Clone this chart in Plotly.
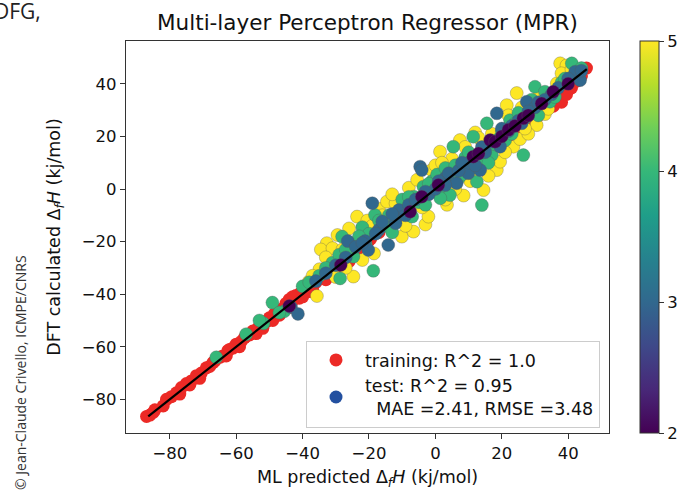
import plotly.graph_objects as go

# ---------------- data ----------------
train_x = [-87.0, -86.0, -84.5, -81.0, -79.5, -78.0, -76.5, -75.0, -73.5, -72.0, -70.5, -69.0, -68.0, -66.5,
           -65.0, -64.0, -62.5, -61.0, -60.0, -58.5, -57.5, -56.0, -55.0, -53.5, -52.5, -51.0, -50.0, -48.5,
           -47.5, -46.0, -45.0, -44.0, -43.0, -42.0, -40.5, -39.5, -38.5, -37.0, -36.0, -35.0, -34.0, -33.0,
           -32.0, -31.0, -30.0, -29.0, -28.0, -27.0, -25.5, -24.0, -22.5, -21.0, -19.5, -17.0, -14.0, -11.0,
           -8.0, -5.0, -2.0, 1.0, 4.0, 7.0, 10.0, 13.0, 16.0, 19.0, 22.0, 25.0, 28.0, 30.5, 33.0, 35.5, 38.0,
           39.5, 41.0, 42.5, 44.0, 45.5,
           -77.0, -71.0, -63.0, -59.0, -54.0, -49.0, -41.0, -37.0, -33.0, -26.0,
           -85.0, -82.0, -74.0, -67.0, -62.0, -57.0, -52.0, -47.0, -45.0, -43.0, -39.0, -36.0, -34.0, -31.0,
           -29.0, -28.0, -24.0, -23.0, -20.0, -38.0, -44.0, -40.0]
train_y = [-86.5, -86.0, -84.0, -80.0, -79.0, -77.5, -75.5, -74.0, -73.0, -71.0, -70.0, -68.0, -67.5, -65.5,
           -64.0, -63.5, -61.5, -60.5, -59.0, -58.0, -56.5, -55.5, -54.0, -53.0, -51.5, -50.5, -49.0, -47.5,
           -46.0, -45.5, -43.5, -42.0, -42.5, -40.5, -39.5, -38.0, -37.5, -36.0, -35.5, -33.5, -33.0, -31.0,
           -31.5, -29.5, -29.5, -27.5, -27.5, -25.5, -25.0, -23.0, -22.0, -20.5, -19.0, -16.5, -13.5, -10.5,
           -7.5, -4.5, -1.5, 1.0, 3.5, 6.5, 9.5, 12.0, 15.0, 17.5, 20.0, 22.5, 24.5, 27.0, 29.5, 31.5, 33.0,
           36.0, 38.5, 41.0, 43.0, 46.0,
           -78.0, -72.0, -63.5, -60.0, -55.0, -50.0, -41.5, -38.0, -34.5, -27.5,
           -85.0, -82.5, -74.5, -66.0, -61.0, -56.0, -53.0, -48.0, -44.5, -41.0, -37.0, -34.0, -32.0, -30.5,
           -29.0, -26.0, -24.5, -21.0, -19.5, -39.0, -45.0, -41.0]

# test set, one list per colour value
yellow_x = [-35.7, -38.1, -34.9, -32.7, -34.5, -31.0, -33.0, -29.5, -24.7, -27.0, -23.6, -20.5, -17.0, -14.6,
            -12.0, -10.1, -6.6, -3.0, -2.1, -8.0, -1.1, 1.4, 3.5, 7.4, 8.5, 10.5, 14.5, 18.5, 19.5, 23.5, 25.5,
            12.0, 21.5, 24.5, 30.5, 33.0, 36.6, 37.6, 39.5, -18.5, -26.0, 5.0, 16.0, -5.5, 28.0,
            -37.0, -30.0, -22.0, -16.0, -13.0, -9.0, -4.0, 0.0, 2.0, 6.0, 9.0, 11.0, 13.0, 17.0, 21.0, 22.0,
            26.0, 27.0, 31.0, 34.0, 38.0, 41.0, -28.0, -19.0, 3.0]
yellow_y = [-40.7, -35.2, -30.5, -20.6, -23.0, -22.5, -26.0, -17.5, -33.3, -30.0, -10.5, -12.0, -7.5, -4.8,
            -5.5, -18.1, -16.2, -13.5, -10.5, 0.5, 7.2, 14.2, -6.0, 18.6, -2.5, 3.0, -0.4, 7.2, 10.4, 16.1, 19.0,
            21.5, 31.9, 36.5, 24.3, 28.5, 40.2, 47.8, 47.0, -24.5, -15.0, 11.5, 5.0, 3.5, 21.0,
            -33.0, -33.5, -27.0, -10.0, -2.0, -14.0, -7.0, 9.0, 10.0, 0.0, 16.0, 6.0, 19.5, 21.0, 14.0, 28.0,
            31.0, 23.0, 35.0, 30.5, 44.0, 45.5, -23.0, -14.0, -4.0]
green_x = [-66.0, -57.0, -51.8, -49.1, -45.5, -35.0, -31.0, -28.7, -28.1, -26.0, -24.7, -22.0, -18.7, -18.2,
           -20.0, -15.0, -13.0, -11.1, -10.0, -9.0, -7.0, -6.5, -3.6, -1.0, 0.5, 2.0, 3.0, 4.4, 5.4, 7.0, 9.0,
           11.4, 12.5, 14.0, 15.5, 17.0, 18.0, 20.0, 22.5, 24.0, 26.5, 28.5, 30.0, 33.0, 34.5, 38.0, 41.1,
           -40.0, -47.0,
           -38.0, -33.0, -29.0, -27.0, -23.0, -21.0, -17.0, -14.0, -12.0, -8.0, -5.0, -3.0, -2.0, 1.0, 1.5,
           3.5, 6.0, 8.0, 10.0, 11.0, 13.0, 16.0, 19.0, 21.0, 23.0, 25.0, 27.0, 29.0, 31.0, 32.0, 36.0, 39.0,
           42.0, 44.0, -53.0]
green_y = [-64.0, -55.2, -51.1, -43.2, -46.5, -33.0, -28.0, -34.0, -18.1, -20.5, -25.7, -14.5, -31.1, -9.9,
           -17.0, -14.0, -16.5, -9.2, -4.0, -8.0, -10.5, -2.9, 0.9, 3.0, 5.5, -1.0, 8.0, -2.3, 16.1, 4.0, 12.0,
           19.9, 2.8, -6.1, 25.0, 13.0, 17.0, 22.0, 26.2, 25.0, 12.9, 30.0, 38.9, 37.0, 33.2, 40.5, 47.8,
           -37.0, -47.0,
           -35.5, -30.0, -25.0, -23.0, -18.0, -21.0, -12.0, -10.0, -11.0, -3.0, -5.0, -6.0, 2.0, 2.0, -3.5,
           3.0, 9.0, 5.5, 14.0, 8.0, 11.0, 10.0, 19.0, 18.5, 21.0, 29.0, 27.0, 34.0, 28.0, 33.0, 35.0, 42.0,
           43.0, 46.0, -50.0]
blue_x = [-43.5, -41.4, -30.0, -26.4, -24.0, -21.2, -20.2, -19.0, -17.1, -16.0, -14.2, -12.0, -11.0, -8.0,
          -4.6, -4.1, -2.0, 0.0, 2.9, 4.0, 6.4, 9.5, 9.9, 10.0, 13.5, 15.0, 18.5, 19.5, 22.0, 25.0, 27.5,
          30.0, 35.0, 42.1, 43.6,
          -36.0, -33.0, -27.0, -22.0, -18.0, -13.0, -9.0, -6.0, -3.0, 1.0, 3.0, 7.0, 8.0, 12.0, 14.0, 17.0,
          20.0, 23.0, 26.0, 28.0, 31.0, 33.0, 37.0, 40.0, 44.0]
blue_y = [-44.9, -47.5, -29.0, -19.8, -22.0, -19.8, -23.2, -5.4, -15.6, -12.4, -21.3, -13.0, -8.0, -6.0,
          8.5, 7.2, -2.0, 0.0, 4.1, 6.0, 2.2, 8.5, 6.0, 10.0, 7.2, 14.0, 28.8, 16.1, 22.0, 26.0, 33.2,
          31.0, 36.0, 44.6, 41.4,
          -35.0, -32.0, -26.0, -20.5, -17.0, -9.5, -10.0, -4.0, -1.0, 3.0, 1.5, 7.0, 10.0, 9.0, 16.0, 18.0,
          23.0, 24.0, 25.0, 29.5, 33.0, 34.0, 38.5, 42.0, 45.0]
purple_x = [-44.0, -28.5, -7.6, -4.1, 0.9, 11.4, 13.0, 16.5, 18.0, 20.0, 22.0, 24.0, 26.5, 28.0, 32.0, 35.5,
            40.0]
purple_y = [-44.5, -28.9, -8.6, -2.9, 1.5, 12.3, 13.5, 18.6, 18.0, 20.0, 22.5, 24.0, 26.9, 28.0, 32.5, 37.0,
            40.0]
group_values = [5, 4, 3, 2]

diag = [-86.5, 45.6]

x_ticks = [-80, -60, -40, -20, 0, 20, 40]
y_ticks = [-80, -60, -40, -20, 0, 20, 40]
cbar_ticks = [2, 3, 4, 5]

title = "Multi-layer Perceptron Regressor (MPR)"
x_label = "ML predicted Δ<sub><i>f</i></sub><i>H</i> (kj/mol)"
y_label = "DFT calculated Δ<sub><i>f</i></sub><i>H</i> (kj/mol)"
train_label = "training: R^2 = 1.0"
test_label = "test: R^2 = 0.95<br>\u00a0\u00a0MAE =2.41, RMSE =3.48"

RED = "#ec2a26"
BLUE = "#2350a0"
FONT = "DejaVu Sans"

# assemble the test set (yellow drawn first, purple on top)
groups = [(yellow_x, yellow_y), (green_x, green_y), (blue_x, blue_y), (purple_x, purple_y)]
test_x, test_y, test_c = [], [], []
for (gx, gy), v in zip(groups, group_values):
    test_x += gx
    test_y += gy
    test_c += [v] * len(gx)

# ---------------- figure ----------------
W, H = 694, 490
L, R, T, B = 126, 85, 41, 57
pw, ph = W - L - R, H - T - B

fig = go.Figure()

fig.add_trace(go.Scatter(
    x=train_x, y=train_y, mode="markers", showlegend=False,
    marker=dict(size=13, color=RED, line=dict(width=0)),
))
fig.add_trace(go.Scatter(
    x=test_x, y=test_y, mode="markers", showlegend=False,
    marker=dict(size=13, color=test_c, colorscale="Viridis", cmin=2, cmax=5,
                line=dict(width=0.6, color="rgba(90,90,90,0.55)"),
                showscale=True,
                colorbar=dict(x=(640 - L) / pw, xanchor="left", y=0.5, yanchor="middle",
                              len=1, lenmode="fraction", thickness=19, thicknessmode="pixels",
                              xpad=0, ypad=0, outlinewidth=1, outlinecolor="#333",
                              ticks="outside", ticklen=5, tickcolor="#333",
                              tickvals=cbar_ticks, tickfont=dict(family=FONT, size=16.5, color="#111"))),
))
fig.add_trace(go.Scatter(
    x=diag, y=diag, mode="lines", showlegend=False,
    line=dict(color="black", width=2.2),
))
# legend entries
fig.add_trace(go.Scatter(x=[None], y=[None], mode="markers", name=train_label,
                         marker=dict(size=13, color=RED)))
fig.add_trace(go.Scatter(x=[None], y=[None], mode="markers", name=test_label,
                         marker=dict(size=13, color=BLUE)))

axis_common = dict(showline=True, mirror=True, linecolor="#333", linewidth=1.2, automargin=False,
                   ticks="outside", ticklen=5, tickcolor="#333", showgrid=False, zeroline=False,
                   tickfont=dict(family=FONT, size=16.5, color="#111"))

fig.update_layout(
    width=W, height=H, margin=dict(l=L, r=R, t=T, b=B, pad=0, autoexpand=False),
    paper_bgcolor="white", plot_bgcolor="white",
    font=dict(family=FONT, color="#111"),
    title=dict(text=title, x=0.5, xref="paper", xanchor="center",
               y=1 - 22 / H, yref="container", yanchor="middle",
               font=dict(family=FONT, size=21.5, color="#111")),
    xaxis=dict(range=[-93.2, 52.3], tickvals=x_ticks,
               title=dict(text=x_label, standoff=9, font=dict(family=FONT, size=17.5)),
               **axis_common),
    yaxis=dict(range=[-92.8, 56.3], tickvals=y_ticks,
               title=dict(text=y_label, standoff=16, font=dict(family=FONT, size=17.5)),
               **axis_common),
    legend=dict(x=(600 - L) / pw, xanchor="right", y=(433 - 428) / ph, yanchor="bottom",
                bgcolor="white", bordercolor="#cccccc", borderwidth=1,
                font=dict(family=FONT, size=17.5, color="#111"), itemwidth=48),
    annotations=[
        dict(text="DFG,", xref="paper", yref="paper", x=(43 - L) / pw, xanchor="right",
             y=1 + (T - 11) / ph, yanchor="middle", showarrow=False,
             font=dict(family="Open Sans", size=21, color="#222")),
        dict(text="© Jean-Claude Crivello, ICMPE/CNRS", xref="paper", yref="paper",
             x=(20 - L) / pw, xanchor="center", y=(433 - 373) / ph, yanchor="middle",
             textangle=-90, showarrow=False,
             font=dict(family="Open Sans", size=14, color="#333")),
    ],
)

fig.write_html("out.html", config={"displayModeBar": False},
               post_script="document.body.style.margin='0';")
